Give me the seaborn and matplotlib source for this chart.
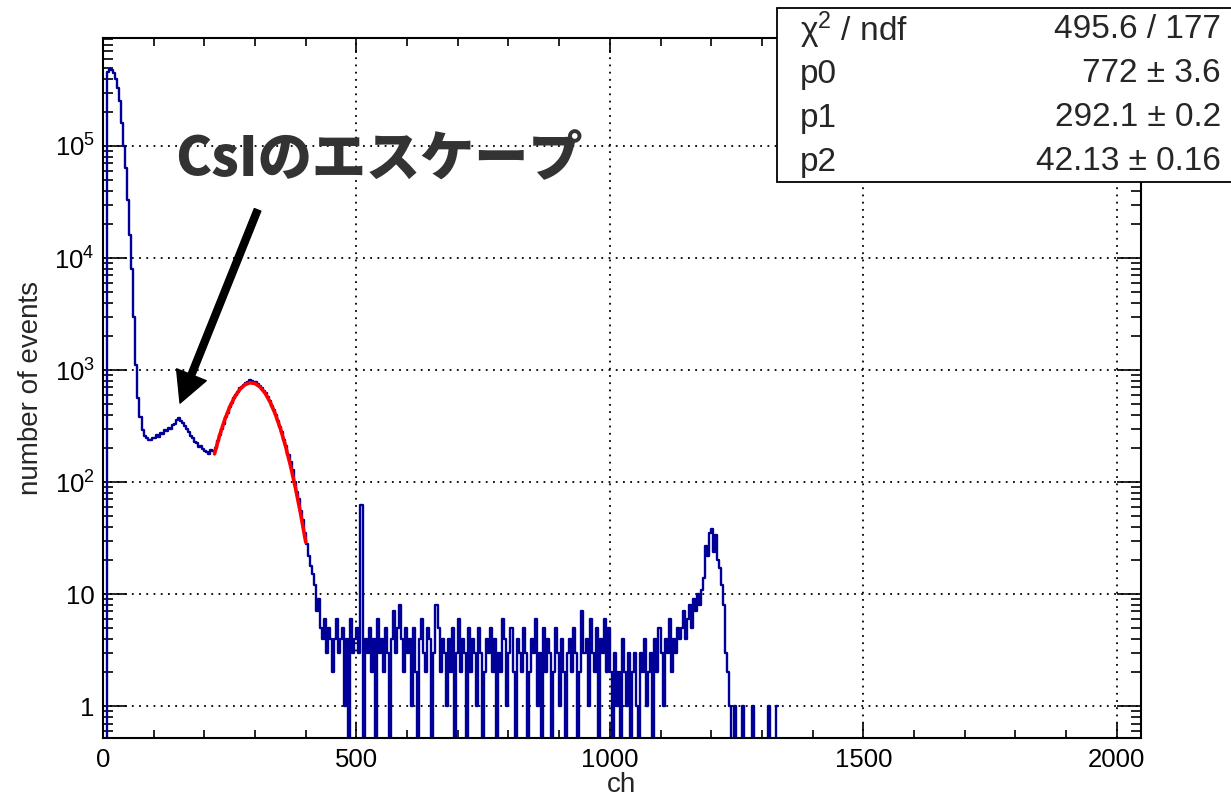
import numpy as np
import pandas as pd
import matplotlib
matplotlib.use('Agg')
import matplotlib.pyplot as plt
import seaborn as sns
from matplotlib.patches import Rectangle
from matplotlib.ticker import LogLocator, NullFormatter, MultipleLocator

# ---- data (4 ch per bin) ----
BIN_WIDTH = 4
peak_counts = [0, 0, 4.6e5, 4.9e5, 4.8e5, 4.5e5, 4.0e5, 3.3e5, 2.5e5, 1.6e5,
               1.0e5, 6.3e4, 3.3e4, 1.6e4, 8000, 3000, 1100, 560, 380, 290]
escape_counts = [260, 245, 240, 238, 250, 245, 262, 255, 275, 268,
                 290, 285, 305, 300, 325, 330, 360, 372, 350, 340,
                 318, 300, 280, 260, 245, 230, 222, 205, 212, 198,
                 190, 185, 178, 192, 188]
photo_counts = [200, 235, 262, 300, 330, 380, 410, 470, 510, 560,
                600, 640, 690, 700, 740, 760, 790, 810, 800, 790,
                780, 745, 720, 690, 650, 620, 580, 530, 480, 440,
                400, 350, 310, 280, 240, 210, 175, 150, 128, 100,
                82, 70, 55, 46, 35]
tail_counts = [28, 22, 18, 15, 12, 7, 9, 5, 4, 6, 3, 5, 4, 2, 4,
               6, 3, 4, 5, 1, 4, 0, 6, 3, 4, 5, 3, 62, 0, 4]
noise_counts = [3, 5, 2, 4, 0, 6, 3, 4, 2, 5, 3, 0, 4, 7, 3, 5, 8, 4, 2, 5,
                3, 4, 1, 5, 2, 0, 4, 6, 3, 2, 5, 4, 0, 3, 8, 5, 2, 4, 3, 1,
                4, 2, 5, 0, 3, 6, 2, 4, 3, 0, 5, 2, 4, 3, 1, 5, 3, 0, 2, 4,
                3, 5, 2, 4, 0, 3, 2, 6, 4, 1, 3, 5, 2, 0, 4, 3, 2, 5, 3, 0,
                2, 4, 3, 6, 1, 3, 0, 5, 2, 4, 3, 0, 2, 5, 3, 1, 4, 2, 0, 3,
                4, 2, 5, 3, 0, 2, 7, 3, 4, 1, 6, 3, 2, 5, 0, 4, 3, 6, 2, 5,
                2, 0, 3, 1, 2, 0, 4, 2, 1, 3, 0, 2, 3, 1, 0, 3, 2, 4, 1, 2,
                3, 0, 4, 2, 5, 3, 1, 4, 3, 6, 2, 4, 3, 5, 4]
rise_counts = [5, 7, 4, 6, 8, 5, 9, 7, 10, 8]
line_counts = [11, 14, 27, 22, 35, 38, 24, 34, 20, 17, 12, 8, 3, 2, 1]
after_counts = [0, 1, 0, 0, 0, 1, 0, 0, 0, 0, 1, 0,
                0, 0, 0, 0, 0, 0, 1, 0, 0, 0, 1]

# gaussian fit (p0=772, p1=292.1, p2=42.13)
fit_ch = [220, 230, 240, 250, 260, 270, 280, 290, 300, 310,
          320, 330, 340, 350, 360, 370, 380, 390, 400]
fit_val = [178.6, 260.5, 359.4, 468.6, 577.5, 672.7, 740.8, 771.0, 758.6, 705.4,
           620.0, 515.1, 404.5, 300.3, 210.7, 139.7, 87.6, 51.9, 29.1]

xtick_vals = [0, 500, 1000, 1500, 2000]
xtick_labels = ['0', '500', '1000', '1500', '2000']
ytick_vals = [1, 10, 100, 1e3, 1e4, 1e5]
ytick_labels = ['1', '10', '$10^{2}$', '$10^{3}$', '$10^{4}$', '$10^{5}$']

stat_names = ['χ$^{2}$ / ndf', 'p0', 'p1', 'p2']
stat_values = ['495.6 / 177', '772 ± 3.6', '292.1 ± 0.2', '42.13 ± 0.16']

# ---- build table ----
counts = (peak_counts + escape_counts + photo_counts + tail_counts
          + noise_counts + rise_counts + line_counts + after_counts)
edges = np.arange(len(counts) + 1) * BIN_WIDTH
hist = pd.DataFrame({'ch': edges, 'n': counts + [counts[-1]]})
fit = pd.DataFrame({'ch': fit_ch, 'n': fit_val})

sns.set_style('ticks')
plt.rcParams['font.family'] = ['Liberation Sans', 'DejaVu Sans']
plt.rcParams['mathtext.fontset'] = 'custom'
plt.rcParams['mathtext.rm'] = 'Liberation Sans'
plt.rcParams['mathtext.it'] = 'Liberation Sans:italic'
plt.rcParams['mathtext.bf'] = 'Liberation Sans:bold'

fig = plt.figure(figsize=(12.31, 7.96), dpi=100)
ax = fig.add_axes([103 / 1231, 58 / 796, 1038 / 1231, 700 / 796])

sns.lineplot(data=hist, x='ch', y='n', ax=ax, color='#000099', linewidth=1.7,
             drawstyle='steps-post', estimator=None, sort=False)
sns.lineplot(data=fit, x='ch', y='n', ax=ax, color='#ff0000', linewidth=2.6,
             estimator=None, sort=False)

ax.set_yscale('log')
ax.set_xlim(0, 2048)
ax.set_ylim(0.52, 9.2e5)

ax.set_xticks(xtick_vals)
ax.set_xticklabels(xtick_labels, fontsize=18.5)
ax.xaxis.set_minor_locator(MultipleLocator(100))
ax.set_yticks(ytick_vals)
ax.set_yticklabels(ytick_labels, fontsize=18.5)
ax.yaxis.set_minor_locator(LogLocator(base=10, subs=range(2, 10), numticks=20))
ax.yaxis.set_minor_formatter(NullFormatter())

ax.tick_params(which='both', direction='in', top=True, right=True, width=1.2, colors='black')
ax.tick_params(axis='x', which='major', length=11, pad=7)
ax.tick_params(axis='x', which='minor', length=6)
ax.tick_params(axis='y', which='major', length=17, pad=6)
ax.tick_params(axis='y', which='minor', length=7)
for s in ax.spines.values():
    s.set_linewidth(1.5)
    s.set_color('black')

ax.grid(True, which='major', color='black', linestyle=(0, (1, 3)), linewidth=1.3)
ax.set_axisbelow(True)

ax.set_xlabel('ch', fontsize=20)
ax.xaxis.set_label_coords(0.5, -0.048)
ax.set_ylabel('number of events', fontsize=20)
ax.yaxis.set_label_coords(-0.057, 0.5)

# annotation
ax.annotate('', xy=(152, 507), xytext=(305, 2.69e4),
            arrowprops=dict(facecolor='black', edgecolor='black', width=5,
                            headwidth=23, headlength=22, shrink=0))
fig.text(175 / 1231, 1 - 160 / 796, 'CsIのエスケープ', fontsize=39, fontweight='black',
         color='#333333', family=['Noto Sans CJK JP', 'DejaVu Sans'],
         ha='left', va='center')

# stats box
fig.add_artist(Rectangle((777 / 1231, 1 - 182 / 796), 500 / 1231, 174 / 796,
                         transform=fig.transFigure, facecolor='white',
                         edgecolor='black', linewidth=1.3, zorder=10))
row_y = [30, 74, 118, 162]
for name, val, yy in zip(stat_names, stat_values, row_y):
    fig.text(800 / 1231, 1 - yy / 796, name, fontsize=24, ha='left', va='center', zorder=11)
    fig.text(1221 / 1231, 1 - yy / 796, val, fontsize=24, ha='right', va='center', zorder=11)

plt.savefig('out.png', dpi=100)
